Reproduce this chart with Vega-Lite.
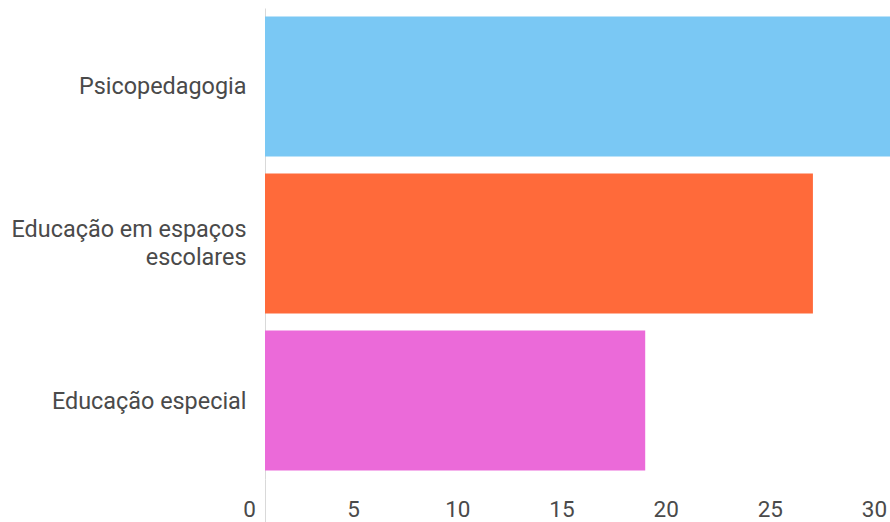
{
  "$schema": "https://vega.github.io/schema/vega-lite/v6.json",
  "autosize": "none",
  "width": 625,
  "height": 471,
  "padding": {"left": 265, "top": 8, "right": 0, "bottom": 43},
  "background": "white",
  "config": {"view": {"stroke": null}, "font": "Roboto"},
  "data": {
    "values": [
      {"area": "Psicopedagogia", "count": 30, "color": "#7AC8F4"},
      {"area": "Educação em espaços escolares", "count": 26.3, "color": "#FF6A3A"},
      {"area": "Educação especial", "count": 18.25, "color": "#EB6AD9"}
    ]
  },
  "mark": {"type": "bar", "clip": true},
  "encoding": {
    "y": {
      "field": "area",
      "type": "nominal",
      "sort": null,
      "scale": {"paddingInner": 0.1083, "paddingOuter": 0.054},
      "axis": {
        "title": null,
        "ticks": false,
        "domain": true,
        "domainColor": "#d9d9d9",
        "domainWidth": 1,
        "labelFont": "Roboto",
        "labelFontSize": 23.4,
        "labelColor": "#4a4a4a",
        "labelPadding": 19,
        "labelLimit": 0,
        "labelLineHeight": 28,
        "labelOffset": {"condition": {"test": "datum.value == 'Educação em espaços escolares'", "value": -14}, "value": 1},
        "labelExpr": "datum.label == 'Educação em espaços escolares' ? ['Educação em espaços', 'escolares'] : datum.label"
      }
    },
    "x": {
      "field": "count",
      "type": "quantitative",
      "scale": {"domain": [0, 30], "nice": false},
      "axis": {
        "title": null,
        "values": [0, 5, 10, 15, 20, 25, 30],
        "grid": false,
        "domain": false,
        "ticks": true,
        "tickSize": 43,
        "tickColor": {"condition": {"test": "datum.value === 0", "value": "#d9d9d9"}, "value": "transparent"},
        "labelFont": "Roboto",
        "labelFontSize": 22.5,
        "labelColor": "#4a4a4a",
        "labelBaseline": "middle",
        "labelPadding": -13,
        "labelOffset": -16,
        "labelFlush": false,
        "labelOverlap": false
      }
    },
    "color": {"field": "color", "type": "nominal", "scale": null, "legend": null}
  }
}
